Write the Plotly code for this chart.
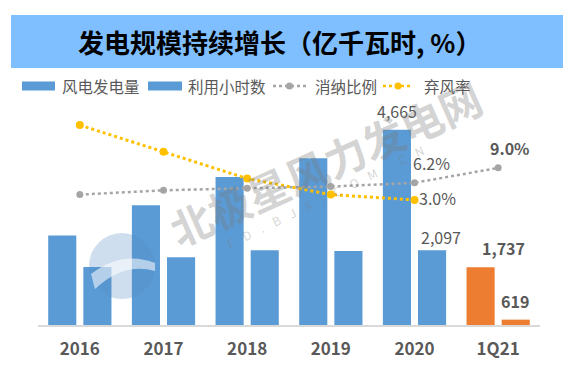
import plotly.graph_objects as go

# ---- data ----
categories = ["2016", "2017", "2018", "2019", "2020", "1Q21"]
generation = [2410, 3057, 3660, 4057, 4665, 1737]      # 风电发电量 (亿千瓦时)
hours = [1742, 1948, 2095, 2082, 2097, 619]            # 利用小时数
share = [4.0, 4.8, 5.2, 5.5, 6.2, 9.0]                 # 消纳比例 (%)
curtail = [17, 12, 7, 4, 3, None]                      # 弃风率 (%)
bar_colors_gen = ["#5B9BD5"] * 5 + ["#ED7D31"]
bar_colors_hrs = ["#5B9BD5"] * 5 + ["#ED7D31"]

# the page body has an 8px margin: the figure is drawn 8px in from the window edge
OFF = 8
W, H = 576 - 2 * OFF, 382 - 2 * OFF
L, T = 38 - OFF, 100 - OFF
PLOT_R, PLOT_B = 540 - OFF, 325 - OFF
R, B = W - PLOT_R, H - PLOT_B
PW, PH = W - L - R, H - T - B

def xp(px):   # window pixel -> paper x
    return (px - OFF - L) / PW

def yp(py):   # window pixel -> paper y
    return (PLOT_B - (py - OFF)) / PH

FONT = "Noto Sans CJK SC, Noto Sans, sans-serif"
GREY_TXT = "#595959"

fig = go.Figure()
fig.add_trace(go.Bar(x=categories, y=generation, name="风电发电量",
                     marker=dict(color=bar_colors_gen, line=dict(width=0)),
                     showlegend=False))
fig.add_trace(go.Bar(x=categories, y=hours, name="利用小时数",
                     marker=dict(color=bar_colors_hrs, line=dict(width=0)),
                     showlegend=False))
fig.add_trace(go.Scatter(x=categories, y=share, name="消纳比例", yaxis="y2",
                         mode="lines+markers",
                         line=dict(color="#A5A5A5", width=2.5, dash="dot"),
                         marker=dict(color="#A5A5A5", size=7),
                         showlegend=False))
fig.add_trace(go.Scatter(x=categories, y=curtail, name="弃风率", yaxis="y2",
                         mode="lines+markers",
                         line=dict(color="#FFC000", width=3, dash="dot"),
                         marker=dict(color="#FFC000", size=8),
                         showlegend=False))

shapes = []
annotations = []

# title band
shapes.append(dict(type="rect", xref="paper", yref="paper",
                   x0=xp(11), x1=xp(563), y0=yp(68), y1=yp(15),
                   fillcolor="#7FBFFF", line=dict(width=0), layer="below"))
annotations.append(dict(xref="paper", yref="paper", x=xp(279), y=yp(41),
                        text="发电规模持续增长（亿千瓦时, %）", showarrow=False,
                        xanchor="center", yanchor="middle",
                        font=dict(family=FONT, size=26, color="#000000", weight="bold")))

# manual legend
leg_y = 86
legend_items = [
    ("bar", "#5B9BD5", 22, 55, 60, "风电发电量"),
    ("bar", "#5B9BD5", 148, 182, 186, "利用小时数"),
    ("line", "#A5A5A5", 273, 306, 313, "消纳比例"),
    ("line", "#FFC000", 383, 413, 422, "弃风率"),
]
for kind, col, x0, x1, tx, label in legend_items:
    if kind == "bar":
        shapes.append(dict(type="rect", xref="paper", yref="paper",
                           x0=xp(x0), x1=xp(x1), y0=yp(leg_y + 4.5), y1=yp(leg_y - 4.5),
                           fillcolor=col, line=dict(width=0)))
    else:
        shapes.append(dict(type="line", xref="paper", yref="paper",
                           x0=xp(x0), x1=xp(x1), y0=yp(leg_y), y1=yp(leg_y),
                           line=dict(color=col, width=2.5, dash="dot")))
        cx = (x0 + x1) / 2
        shapes.append(dict(type="circle", xref="paper", yref="paper",
                           x0=xp(cx - 3.5), x1=xp(cx + 3.5), y0=yp(leg_y + 3.5), y1=yp(leg_y - 3.5),
                           fillcolor=col, line=dict(width=0)))
    annotations.append(dict(xref="paper", yref="paper", x=xp(tx), y=yp(leg_y),
                            text=label, showarrow=False, xanchor="left", yanchor="middle",
                            font=dict(family=FONT, size=15.5, color=GREY_TXT)))

# data labels (x given as category index)
def lab(i, y, text, xs, ys, bold=False, yref="y"):
    annotations.append(dict(x=i, y=y, xref="x", yref=yref, text=text, showarrow=False,
                            xanchor="center", yanchor="middle", xshift=xs, yshift=ys,
                            font=dict(family=FONT, size=16, color=GREY_TXT,
                                      weight="bold" if bold else "normal")))

lab(4, generation[4], f"{generation[4]:,}", -17.5, 19)
lab(4, hours[4], f"{hours[4]:,}", 26, 13)
lab(5, generation[5], f"{generation[5]:,}", 5, 19, bold=True)
lab(5, hours[5], f"{hours[5]:,}", 17, 18.5, bold=True)
lab(4, share[4], f"{share[4]:.1f}%", 17, 20, yref="y2")
lab(4, curtail[4], f"{curtail[4]:.1f}%", 22.5, 2, yref="y2")
lab(5, share[5], f"{share[5]:.1f}%", 11.5, 19.5, bold=True, yref="y2")

# watermark (logo circle with swoosh + site name)
shapes.append(dict(type="circle", xref="paper", yref="paper",
                   x0=xp(89), x1=xp(155), y0=yp(299), y1=yp(233),
                   fillcolor="rgba(80,135,195,0.28)", line=dict(width=0), layer="above"))

def P(a, b):
    return f"{xp(a):.4f},{yp(b):.4f}"

path = (f"M {P(91, 274)} Q {P(122, 250)} {P(155, 263)} L {P(155, 271)} "
        f"Q {P(124, 262)} {P(95, 289)} Z")
shapes.append(dict(type="path", xref="paper", yref="paper", path=path,
                   fillcolor="rgba(255,255,255,0.55)", line=dict(width=0), layer="above"))
annotations.append(dict(xref="paper", yref="paper", x=xp(325), y=yp(162),
                        xanchor="center", yanchor="middle",
                        text="北极星风力发电网", showarrow=False, textangle=-24,
                        font=dict(family=FONT, size=42, color="rgba(120,120,120,0.33)",
                                  weight="bold")))
sp = "\u00a0" * 4
annotations.append(dict(xref="paper", yref="paper", x=xp(325), y=yp(196),
                        xanchor="center", yanchor="middle",
                        text=sp.join(list("FD.BJX.COM.CN")), showarrow=False, textangle=-26,
                        font=dict(family=FONT, size=12, color="rgba(120,120,120,0.33)")))

fig.update_layout(
    width=W, height=H,
    margin=dict(l=L, r=R, t=T, b=B, pad=0),
    paper_bgcolor="white", plot_bgcolor="white",
    barmode="group", bargap=0.16, bargroupgap=0.2,
    shapes=shapes, annotations=annotations,
    showlegend=False,
    xaxis=dict(type="category", range=[-0.5, 5.5], autorange=False,
               showline=True, linecolor="#D9D9D9", linewidth=1.5,
               ticks="", showgrid=False, zeroline=False,
               tickfont=dict(family=FONT, size=17, color=GREY_TXT, weight="bold"),
               ticklabelstandoff=8),
    yaxis=dict(range=[505, 505 + PH * 21.3], autorange=False, visible=False,
               showgrid=False, zeroline=False),
    yaxis2=dict(range=[-20.4, 21.7], autorange=False, overlaying="y", side="right",
                visible=False, showgrid=False, zeroline=False),
)

fig.write_html("out.html")
